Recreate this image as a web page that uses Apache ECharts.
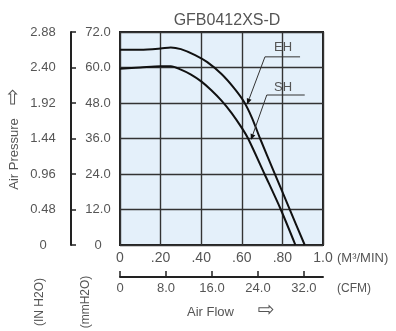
<!DOCTYPE html>
<html><head><meta charset="utf-8">
<script src="https://cdn.jsdelivr.net/npm/echarts@6/dist/echarts.min.js"></script>
<style>html,body{margin:0;padding:0;background:#fff}#c{width:396px;height:331px}</style>
</head><body><div id="c"></div>
<script>
// ---- data ----
const title = 'GFB0412XS-D';
const ehFlow = [0, 0.10, 0.20, 0.25, 0.30, 0.37, 0.43, 0.50, 0.56, 0.61, 0.65, 0.69, 0.76, 0.835, 0.91];
const ehPressure = [66.0, 66.0, 66.4, 66.8, 66.2, 64.2, 61.8, 57.8, 53.2, 48.5, 43.0, 36.0, 24.5, 12.2, 0];
const shFlow = [0, 0.10, 0.20, 0.25, 0.30, 0.35, 0.40, 0.45, 0.50, 0.55, 0.60, 0.631, 0.712, 0.792, 0.864];
const shPressure = [59.6, 60.0, 60.4, 60.4, 59.3, 57.6, 55.3, 52.3, 48.8, 44.6, 39.6, 36.0, 24.0, 12.0, 0];
const flowTickLabels = ['0', '.20', '.40', '.60', '.80', '1.0'];
const cfmTicks = [0, 8, 16, 24, 32];
const cfmTickLabels = ['0', '8.0', '16.0', '24.0', '32.0'];
const mmTickLabels = ['0', '12.0', '24.0', '36.0', '48.0', '60.0', '72.0'];
const inchTickLabels = ['0', '0.48', '0.96', '1.44', '1.92', '2.40', '2.88'];
const seriesNames = ['EH', 'SH'];
const CFM_PER_M3MIN = 35.3147;

const FONT = '"Liberation Sans", Arial, sans-serif';
const NARROW = '"Liberation Sans Narrow", "Liberation Sans", Arial, sans-serif';
const TXT = '#555';
const chart = echarts.init(document.getElementById('c'), null, {renderer: 'canvas'});

const option = {
  animation: false,
  backgroundColor: '#fff',
  grid: {left: 120, top: 32, width: 203, height: 213, show: true,
         backgroundColor: '#e4f0fa', borderColor: '#222', borderWidth: 2},
  title: {text: title, left: 222, top: 8, textAlign: 'center',
          textStyle: {fontFamily: FONT, fontSize: 16, fontWeight: 'normal', color: '#555'}},
  xAxis: [
    {type: 'value', min: 0, max: 1, interval: 0.2, position: 'bottom',
     axisLine: {show: false}, axisTick: {show: false},
     splitLine: {show: true, lineStyle: {color: '#333', width: 1.4}},
     axisLabel: {margin: 6, fontFamily: NARROW, fontSize: 14, color: TXT,
       formatter: v => flowTickLabels[Math.round(v / 0.2)]}},
    {type: 'value', min: 0, max: CFM_PER_M3MIN, interval: 8, position: 'bottom', offset: 32,
     axisLine: {show: true, onZero: false, lineStyle: {color: '#222', width: 2}},
     axisTick: {show: true, inside: true, length: 6, lineStyle: {color: '#222', width: 1.5}, customValues: cfmTicks},
     splitLine: {show: false},
     axisLabel: {margin: 5, fontFamily: FONT, fontSize: 13, color: TXT, customValues: cfmTicks,
       formatter: v => { const i = cfmTicks.indexOf(Math.round(v)); return i >= 0 ? cfmTickLabels[i] : ''; }}}
  ],
  yAxis: [
    {type: 'value', min: 0, max: 72, interval: 12, position: 'left',
     axisLine: {show: false}, axisTick: {show: false},
     splitLine: {show: true, lineStyle: {color: '#333', width: 1.4}},
     axisLabel: {margin: 22, align: 'center', fontFamily: FONT, fontSize: 13, color: TXT,
       formatter: v => mmTickLabels[Math.round(v / 12)]}},
    {type: 'value', min: 0, max: 72, interval: 12, position: 'left', offset: 49,
     axisLine: {show: true, onZero: false, lineStyle: {color: '#222', width: 2}},
     axisTick: {show: true, inside: true, length: 5, lineStyle: {color: '#222', width: 1.5}},
     splitLine: {show: false}, axisLabel: {show: false}},
    {type: 'value', min: 0, max: 2.88, interval: 0.48, position: 'left', offset: 0,
     axisLine: {show: false}, axisTick: {show: false}, splitLine: {show: false},
     axisLabel: {margin: 77, align: 'center', fontFamily: FONT, fontSize: 13, color: TXT,
       formatter: v => inchTickLabels[Math.round(v / 0.48)]}}
  ],
  series: [
    {name: seriesNames[0], type: 'line', xAxisIndex: 0, yAxisIndex: 0, showSymbol: false,
     smooth: 0.3, lineStyle: {color: '#111', width: 2},
     data: ehFlow.map((f, i) => [f, ehPressure[i]])},
    {name: seriesNames[1], type: 'line', xAxisIndex: 0, yAxisIndex: 0, showSymbol: false,
     smooth: 0.3, lineStyle: {color: '#111', width: 2},
     data: shFlow.map((f, i) => [f, shPressure[i]])}
  ]
};
chart.setOption(option);

// annotation leaders, positioned from data coordinates
const P = (x, y) => chart.convertToPixel({xAxisIndex: 0, yAxisIndex: 0}, [x, y]);
function leader(label, labelPt, barStart, barEnd, tip) {
  const a = P(...labelPt), b0 = P(...barStart), b1 = P(...barEnd), t = P(...tip);
  const ang = Math.atan2(t[1] - b0[1], t[0] - b0[0]);
  const L = 6, W = 2.5;
  const bx = t[0] - L * Math.cos(ang), by = t[1] - L * Math.sin(ang);
  const nx = -Math.sin(ang) * W, ny = Math.cos(ang) * W;
  return [
    {type: 'text', x: a[0], y: a[1], style: {text: label, fontFamily: FONT, fontSize: 13, fill: TXT, align: 'center', verticalAlign: 'middle'}, z: 10},
    {type: 'line', shape: {x1: b0[0], y1: b0[1], x2: b1[0], y2: b1[1]}, style: {stroke: '#333', lineWidth: 1}, z: 10},
    {type: 'line', shape: {x1: b0[0], y1: b0[1], x2: bx, y2: by}, style: {stroke: '#333', lineWidth: 1}, z: 10},
    {type: 'polygon', shape: {points: [[t[0], t[1]], [bx + nx, by + ny], [bx - nx, by - ny]]}, style: {fill: '#111'}, z: 10}
  ];
}
const g = [].concat(
  leader('EH', [0.803, 66.9], [0.714, 63.6], [0.887, 63.6], [0.626, 47.5]),
  leader('SH', [0.803, 53.4], [0.723, 50.7], [0.91, 50.7], [0.645, 35.5]),
  [
    {type: 'text', x: 337, y: 258, style: {text: '(M³/MIN)', fontFamily: NARROW, fontSize: 13, fill: TXT, verticalAlign: 'middle'}},
    {type: 'text', x: 337, y: 289, style: {text: '(CFM)', fontFamily: FONT, fontSize: 12, fill: TXT, verticalAlign: 'middle'}},
    {type: 'text', x: 187, y: 312, style: {text: 'Air Flow', fontFamily: FONT, fontSize: 13, fill: TXT, verticalAlign: 'middle'}},
    {type: 'text', x: 266, y: 311, style: {text: '⇨', fontFamily: '"DejaVu Sans", sans-serif', fontSize: 20, fill: TXT, align: 'center', verticalAlign: 'middle'}},
    {type: 'text', x: 14, y: 154, rotation: Math.PI / 2, style: {text: 'Air Pressure', fontFamily: FONT, fontSize: 13, fill: TXT, align: 'center', verticalAlign: 'middle'}},
    {type: 'text', x: 14, y: 97, rotation: Math.PI / 2, style: {text: '⇨', fontFamily: '"DejaVu Sans", sans-serif', fontSize: 20, fill: TXT, align: 'center', verticalAlign: 'middle'}},
    {type: 'text', x: 40, y: 302, rotation: Math.PI / 2, style: {text: '(IN H2O)', fontFamily: FONT, fontSize: 12, fill: TXT, align: 'center', verticalAlign: 'middle'}},
    {type: 'text', x: 86, y: 302, rotation: Math.PI / 2, style: {text: '(mmH2O)', fontFamily: FONT, fontSize: 12, fill: TXT, align: 'center', verticalAlign: 'middle'}}
  ]
);
chart.setOption({graphic: g});
</script></body></html>
